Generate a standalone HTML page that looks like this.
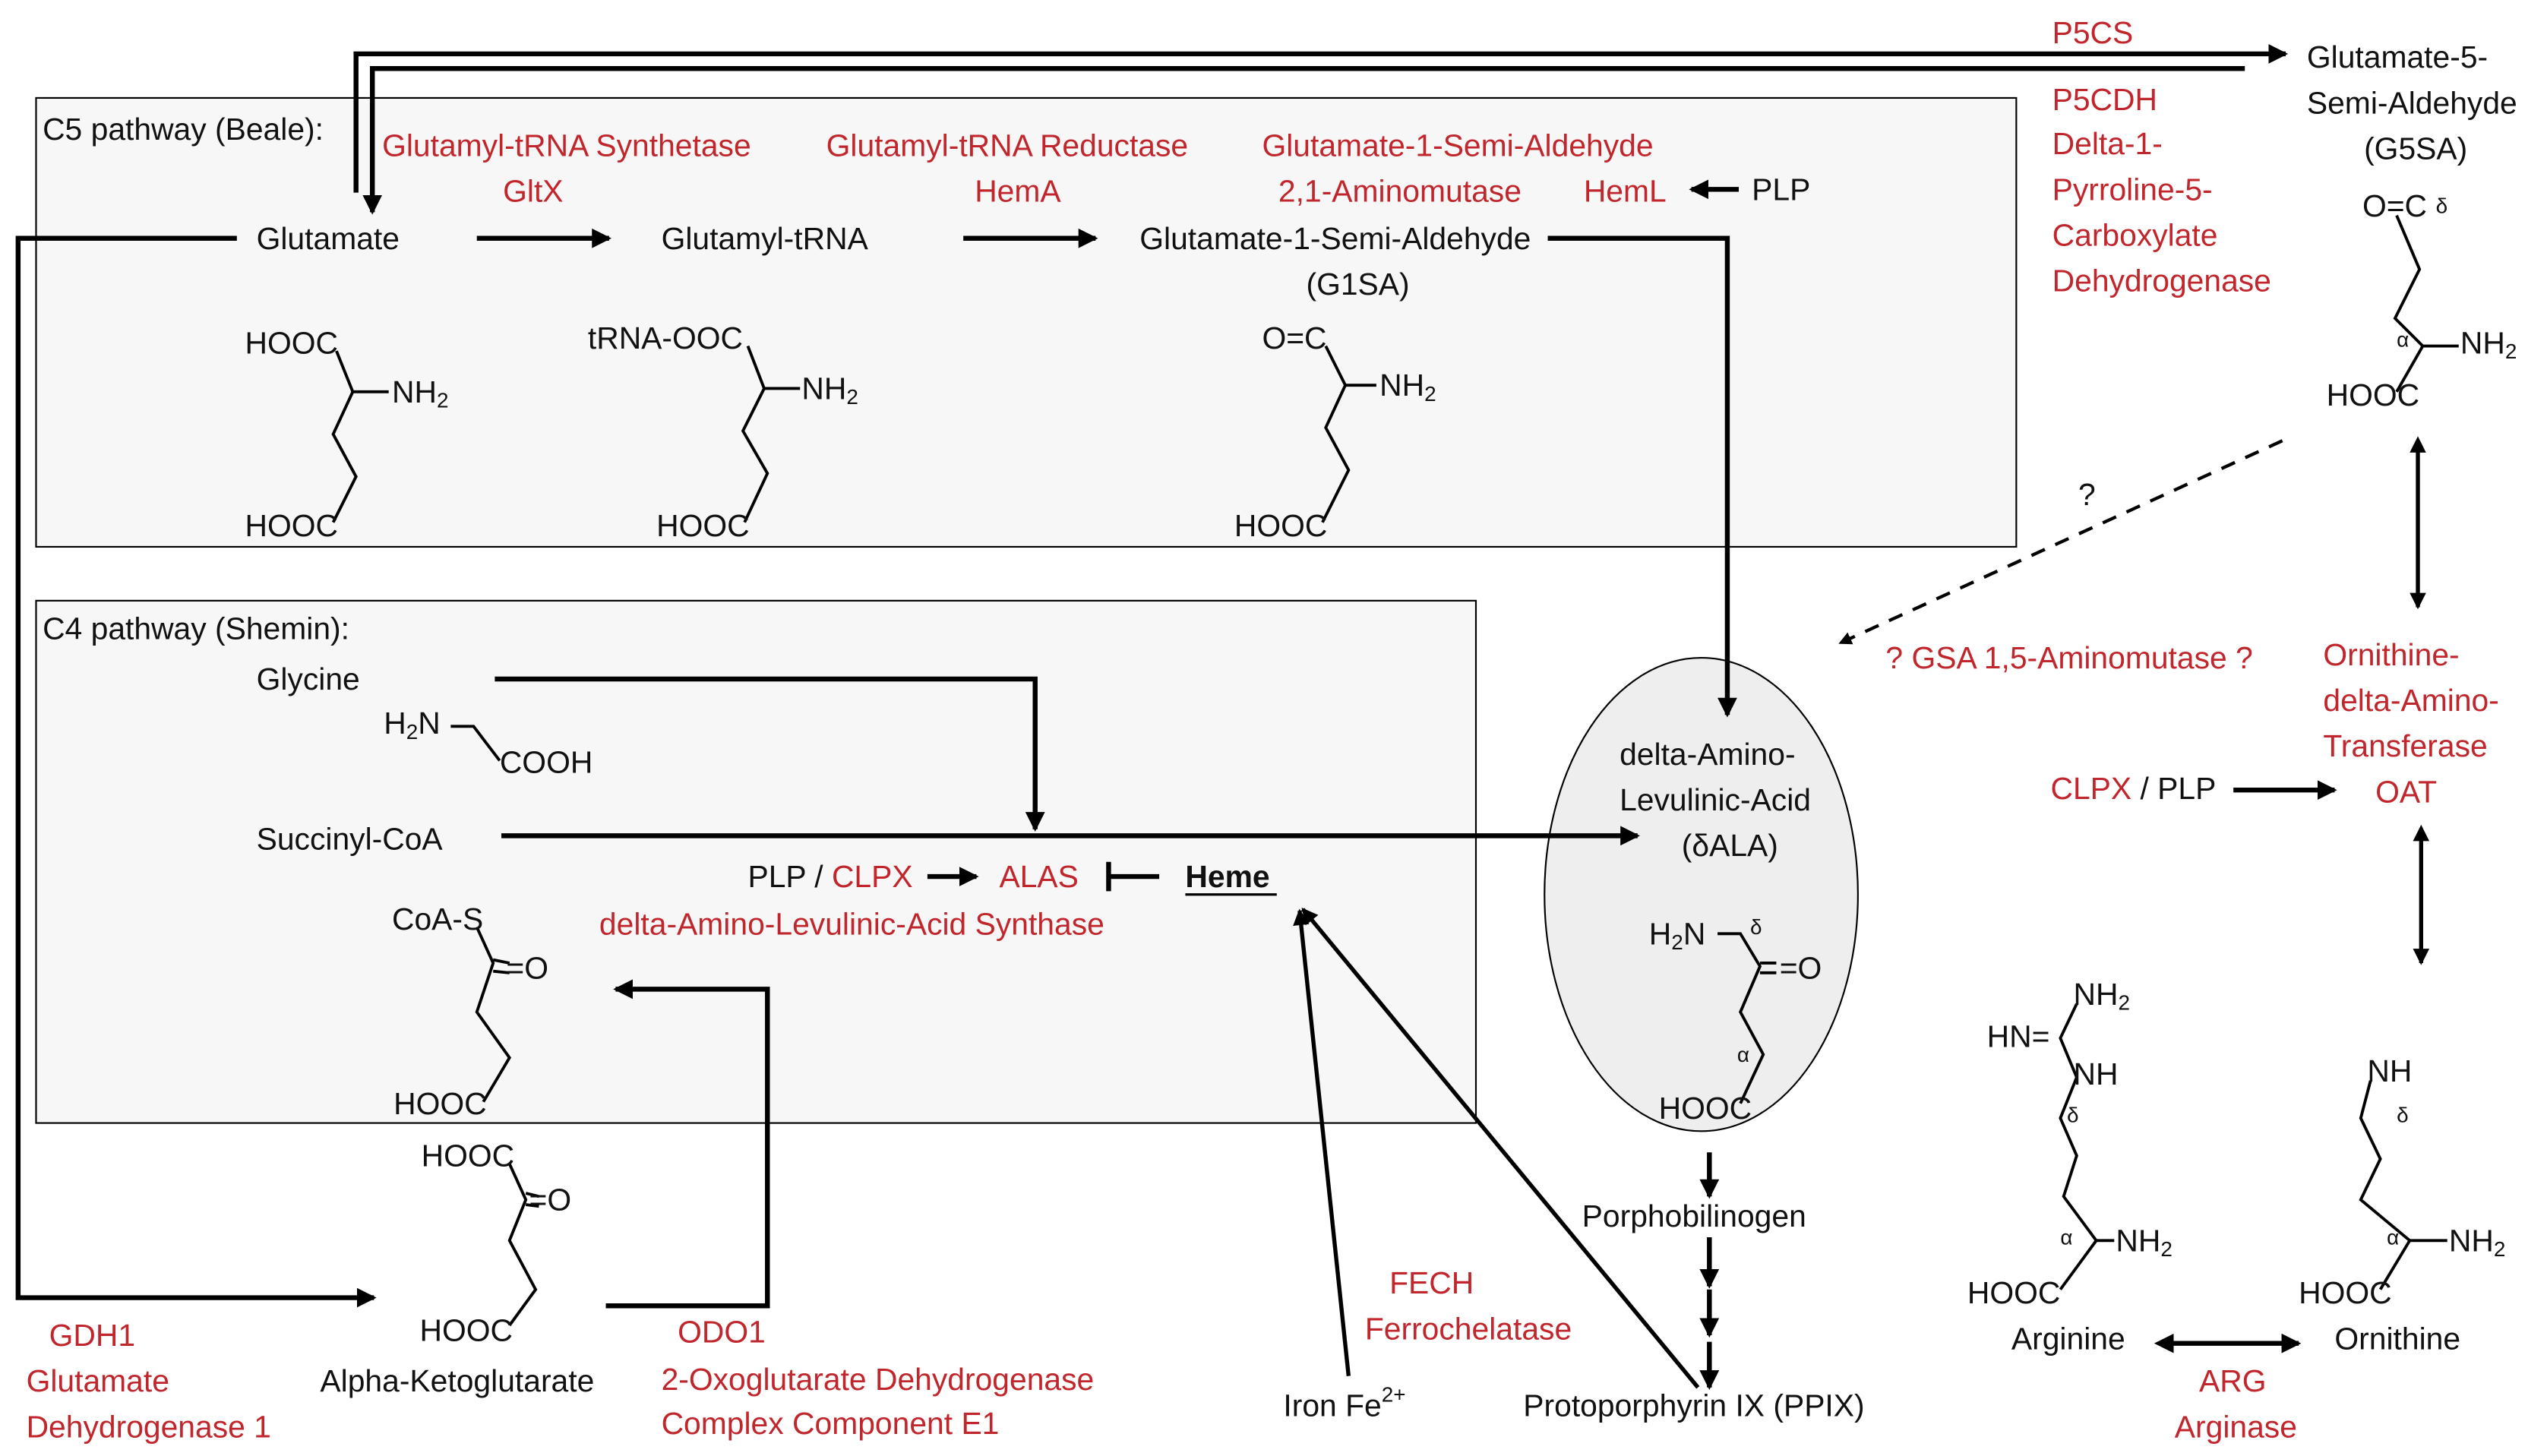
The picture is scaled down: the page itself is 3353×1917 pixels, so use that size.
<!DOCTYPE html>
<html><head><meta charset="utf-8"><style>
html,body{margin:0;padding:0;background:#fff;}
svg{display:block;}
text{font-family:"Liberation Sans",sans-serif;font-size:19px;fill:#111;dominant-baseline:central;}
.r{fill:#c0262c;}
.b{font-weight:bold;}
.s{font-size:13px;}
</style></head><body>
<svg width="3353" height="1917" viewBox="0 0 1560 892" xmlns="http://www.w3.org/2000/svg">
<defs>
<marker id="a" markerWidth="4" markerHeight="4" refX="3.5" refY="2" orient="auto" markerUnits="strokeWidth"><path d="M0,0 L4,2 L0,4 z" fill="#000"/></marker>
<marker id="a2" markerWidth="4" markerHeight="4" refX="0.5" refY="2" orient="auto-start-reverse" markerUnits="strokeWidth"><path d="M0,0 L4,2 L0,4 z" fill="#000"/></marker>
</defs>
<rect width="1560" height="892" fill="#fff"/>
<rect x="22" y="60" width="1213" height="275" fill="#f7f7f7" stroke="#000" stroke-width="1"/>
<rect x="22" y="368" width="882" height="320" fill="#f7f7f7" stroke="#000" stroke-width="1"/>
<ellipse cx="1042" cy="548" rx="96" ry="145" fill="#eee" stroke="#000" stroke-width="1"/>

<g stroke="#000" fill="none" stroke-width="3">
<polyline points="218,118 218,33 1400,33" marker-end="url(#a)"/>
<polyline points="1375,42 228,42 228,130" marker-end="url(#a)"/>
<line x1="292" y1="146" x2="373" y2="146" marker-end="url(#a)"/>
<line x1="590" y1="146" x2="671" y2="146" marker-end="url(#a)"/>
<line x1="1065" y1="116" x2="1036" y2="116" marker-end="url(#a)"/>
<polyline points="948,146 1058,146 1058,438" marker-end="url(#a)"/>
<polyline points="145,146 11,146 11,795 229,795" marker-end="url(#a)"/>
<polyline points="303,416 634,416 634,508" marker-end="url(#a)"/>
<line x1="307" y1="512" x2="1003" y2="512" marker-end="url(#a)"/>
<line x1="568" y1="537" x2="598" y2="537" marker-end="url(#a)"/>
<line x1="710" y1="537" x2="679" y2="537"/>
<line x1="679" y1="528" x2="679" y2="546"/>
<polyline points="371,800 470,800 470,606 377,606" marker-end="url(#a)"/>
<line x1="826" y1="843" x2="796" y2="558" marker-end="url(#a)" stroke-width="2.5"/>
<line x1="1040" y1="850" x2="798" y2="557" marker-end="url(#a)" stroke-width="2.5"/>
<line x1="1047" y1="706" x2="1047" y2="733" marker-end="url(#a)"/>
<line x1="1047" y1="758" x2="1047" y2="788" marker-end="url(#a)"/>
<line x1="1047" y1="790" x2="1047" y2="818" marker-end="url(#a)"/>
<line x1="1047" y1="822" x2="1047" y2="850" marker-end="url(#a)"/>
<line x1="1398" y1="270" x2="1127" y2="394" stroke-dasharray="9,7" marker-end="url(#a)" stroke-width="2"/>
<line x1="1481" y1="276" x2="1481" y2="372" marker-start="url(#a2)" marker-end="url(#a)" stroke-width="2.5"/>
<line x1="1368" y1="484" x2="1430" y2="484" marker-end="url(#a)"/>
<line x1="1483" y1="514" x2="1483" y2="590" marker-start="url(#a2)" marker-end="url(#a)" stroke-width="2.5"/>
<line x1="1330" y1="823" x2="1408" y2="823" marker-start="url(#a2)" marker-end="url(#a)"/>
</g>

<g stroke="#000" fill="none" stroke-width="1.8">
<polyline points="206,215 216,240 204,266 218,292 204,320"/><line x1="216" y1="240" x2="238" y2="240"/>
<polyline points="458,212 468,238 455,264 470,290 456,320"/><line x1="468" y1="238" x2="490" y2="238"/>
<polyline points="812,212 824,236 812,262 826,288 810,320"/><line x1="824" y1="236" x2="843" y2="236"/>
<polyline points="1468,132 1482,165 1467,195 1484,212 1468,240"/><line x1="1484" y1="212" x2="1506" y2="212"/>
<polyline points="276,445 290,445 306,466"/>
<polyline points="292,568 302,590 292,620 312,648 296,675"/><line x1="302" y1="588" x2="312" y2="590"/><line x1="302" y1="595" x2="312" y2="596"/>
<polyline points="312,713 322,735 312,760 328,790 312,812"/><line x1="322" y1="731" x2="330" y2="733"/><line x1="322" y1="738" x2="330" y2="739"/>
<polyline points="1052,572 1066,572 1078,592 1066,620 1080,646 1066,676"/><line x1="1078" y1="590" x2="1088" y2="590"/><line x1="1078" y1="596" x2="1088" y2="596"/>
<polyline points="1272,615 1262,636 1272,660 1262,685 1272,708 1264,733 1284,760 1262,790"/><line x1="1284" y1="760" x2="1295" y2="760"/>
<polyline points="1452,662 1446,685 1458,710 1446,735 1476,760 1458,790"/><line x1="1476" y1="760" x2="1499" y2="760"/>
</g>

<text x="26" y="79">C5 pathway (Beale):</text>
<text x="234" y="89" class="r">Glutamyl-tRNA Synthetase</text>
<text x="308" y="117" class="r">GltX</text>
<text x="506" y="89" class="r">Glutamyl-tRNA Reductase</text>
<text x="597" y="117" class="r">HemA</text>
<text x="773" y="89" class="r">Glutamate-1-Semi-Aldehyde</text>
<text x="783" y="117" class="r">2,1-Aminomutase</text>
<text x="970" y="117" class="r">HemL</text>
<text x="1073" y="116">PLP</text>
<text x="157" y="146">Glutamate</text>
<text x="405" y="146">Glutamyl-tRNA</text>
<text x="698" y="146">Glutamate-1-Semi-Aldehyde</text>
<text x="800" y="174">(G1SA)</text>
<text x="150" y="210">HOOC</text><text x="240" y="240">NH<tspan class="s" dy="5">2</tspan></text><text x="150" y="322">HOOC</text>
<text x="360" y="207">tRNA-OOC</text><text x="491" y="238">NH<tspan class="s" dy="5">2</tspan></text><text x="402" y="322">HOOC</text>
<text x="773" y="207">O=C</text><text x="845" y="236">NH<tspan class="s" dy="5">2</tspan></text><text x="756" y="322">HOOC</text>

<text x="26" y="385">C4 pathway (Shemin):</text>
<text x="157" y="416">Glycine</text>
<text x="235" y="443">H<tspan class="s" dy="5">2</tspan><tspan dy="-5">N</tspan></text>
<text x="306" y="467">COOH</text>
<text x="157" y="514">Succinyl-CoA</text>
<text x="458" y="537">PLP / <tspan class="r">CLPX</tspan></text>
<text x="612" y="537" class="r">ALAS</text>
<text x="726" y="537" class="b">Heme</text>
<line x1="726" y1="548" x2="782" y2="548" stroke="#000" stroke-width="1.5"/>
<text x="367" y="566" class="r">delta-Amino-Levulinic-Acid Synthase</text>
<text x="240" y="563">CoA-S</text><text x="310" y="593">=O</text><text x="241" y="676">HOOC</text>
<text x="258" y="708">HOOC</text><text x="324" y="735">=O</text><text x="257" y="815">HOOC</text>
<text x="196" y="846">Alpha-Ketoglutarate</text>
<text x="30" y="818" class="r">GDH1</text>
<text x="16" y="846" class="r">Glutamate</text>
<text x="16" y="874" class="r">Dehydrogenase 1</text>
<text x="415" y="816" class="r">ODO1</text>
<text x="405" y="845" class="r">2-Oxoglutarate Dehydrogenase</text>
<text x="405" y="872" class="r">Complex Component E1</text>

<text x="992" y="462">delta-Amino-</text>
<text x="992" y="490">Levulinic-Acid</text>
<text x="1030" y="518">(δALA)</text>
<text x="1010" y="572">H<tspan class="s" dy="5">2</tspan><tspan dy="-5">N</tspan></text>
<text x="1072" y="568" class="s">δ</text>
<text x="1090" y="593">=O</text>
<text x="1064" y="646" class="s">α</text>
<text x="1016" y="679">HOOC</text>
<text x="969" y="745">Porphobilinogen</text>
<text x="933" y="861">Protoporphyrin IX (PPIX)</text>
<text x="786" y="861">Iron Fe<tspan class="s" dy="-7">2+</tspan></text>
<text x="851" y="786" class="r">FECH</text>
<text x="836" y="814" class="r">Ferrochelatase</text>

<text x="1257" y="20" class="r">P5CS</text>
<text x="1257" y="61" class="r">P5CDH</text>
<text x="1257" y="88" class="r">Delta-1-</text>
<text x="1257" y="116" class="r">Pyrroline-5-</text>
<text x="1257" y="144" class="r">Carboxylate</text>
<text x="1257" y="172" class="r">Dehydrogenase</text>
<text x="1413" y="35">Glutamate-5-</text>
<text x="1413" y="63">Semi-Aldehyde</text>
<text x="1448" y="91">(G5SA)</text>
<text x="1447" y="126">O=C</text><text x="1492" y="126" class="s">δ</text>
<text x="1468" y="208" class="s">α</text><text x="1507" y="210">NH<tspan class="s" dy="5">2</tspan></text>
<text x="1425" y="242">HOOC</text>
<text x="1273" y="303">?</text>
<text x="1155" y="403" class="r">? GSA 1,5-Aminomutase ?</text>
<text x="1423" y="401" class="r">Ornithine-</text>
<text x="1423" y="429" class="r">delta-Amino-</text>
<text x="1423" y="457" class="r">Transferase</text>
<text x="1455" y="485" class="r">OAT</text>
<text x="1256" y="483"><tspan class="r">CLPX</tspan> / PLP</text>
<text x="1270" y="609">NH<tspan class="s" dy="5">2</tspan></text>
<text x="1217" y="635">HN=</text>
<text x="1270" y="658">NH</text>
<text x="1266" y="683" class="s">δ</text>
<text x="1262" y="758" class="s">α</text><text x="1296" y="760">NH<tspan class="s" dy="5">2</tspan></text>
<text x="1205" y="792">HOOC</text>
<text x="1232" y="820">Arginine</text>
<text x="1450" y="656">NH</text>
<text x="1468" y="683" class="s">δ</text>
<text x="1462" y="758" class="s">α</text><text x="1500" y="760">NH<tspan class="s" dy="5">2</tspan></text>
<text x="1408" y="792">HOOC</text>
<text x="1430" y="820">Ornithine</text>
<text x="1347" y="846" class="r">ARG</text>
<text x="1332" y="874" class="r">Arginase</text>
</svg>
</body></html>
